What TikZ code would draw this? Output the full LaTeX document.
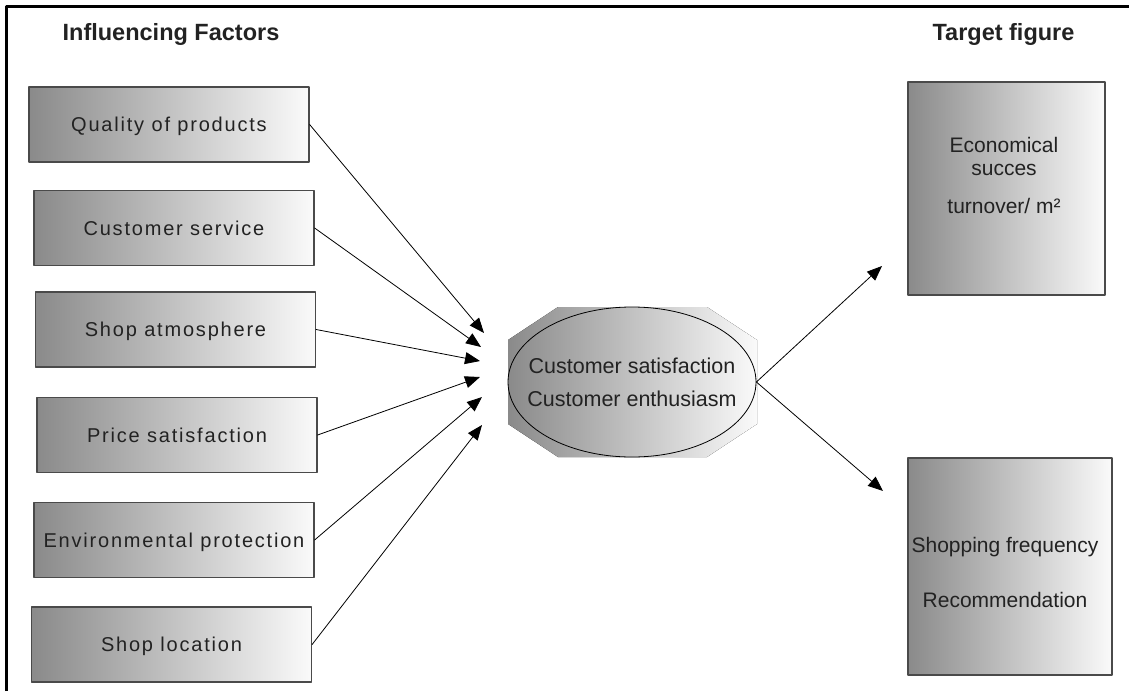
\documentclass[tikz,border=0pt]{standalone}
\usepackage{fontspec}
\setmainfont{Liberation Sans}
\newfontfamily\spacedfont[LetterSpace=9]{Liberation Sans}
\usetikzlibrary{arrows.meta,shapes.geometric}
\definecolor{shadeleft}{HTML}{8A8A8A}
\definecolor{shaderight}{HTML}{FAFAFA}
\definecolor{boxline}{HTML}{4A4A4A}
\definecolor{inkgray}{HTML}{222222}
\tikzset{
	factorbox/.style={rectangle,draw=boxline,line width=1.2pt,left color=shadeleft,right color=shaderight,
		minimum width=280pt,minimum height=75pt,inner sep=0pt,text height=14pt,text depth=0pt,
		font=\spacedfont\fontsize{20}{24}\selectfont,text=inkgray},
	targetbox/.style={rectangle,draw=boxline,line width=1.2pt,left color=shadeleft,right color=shaderight,inner sep=0pt},
	heading/.style={font=\bfseries\fontsize{23.5}{28}\selectfont,text=inkgray},
	flow/.style={-{Triangle[length=15pt,width=12pt]},line width=0.8pt}
}
\begin{document}
\begin{tikzpicture}[x=1pt,y=-1pt,line join=round,line cap=round]
	\useasboundingbox (0,0) rectangle (1129,691);
	\draw[line width=3pt,line cap=butt] (6.5,691)--(6.5,6.5)--(1129,6.5);
	\node[heading,anchor=base] (influence) at (171,40) {Influencing Factors};
	\node[heading,anchor=base] (target) at (1003.5,40) {Target figure};
	\node[factorbox] (quality) at (169,124.5) {Quality of products};
	\node[factorbox] (service) at (174,228) {Customer service};
	\node[factorbox] (atmos) at (175.5,329.5) {Shop atmosphere};
	\node[factorbox] (price) at (177,435) {Price satisfaction};
	\node[factorbox] (environ) at (174,540) {Environmental protection};
	\node[factorbox] (location) at (171.5,644.5) {Shop location};
	\fill[left color=shadeleft,right color=shaderight] (508,340)--(558,307)--(707,307)--(757,340)--(757,424)--(707,457)--(558,457)--(508,424)--cycle;
	\node[ellipse,draw,line width=0.8pt,minimum width=248pt,minimum height=150pt,inner sep=0pt] (sat) at (632,382) {};
	\node[align=center,inner sep=0pt,font=\fontsize{21.5}{33}\selectfont,text=inkgray] (sattext) at (sat.center) {Customer satisfaction\\Customer enthusiasm};
	\node[targetbox,minimum width=197pt,minimum height=213pt] (econ) at (1006.5,188.5) {};
	\node[anchor=north,align=center,inner sep=0pt,font=\fontsize{21}{23}\selectfont,text=inkgray] (econtext) at (1004,137) {Economical\\succes\\[15pt]turnover/ m²};
	\node[targetbox,minimum width=204pt,minimum height=217pt] (freq) at (1010,566.5) {};
	\node[anchor=north,align=center,inner sep=0pt,font=\fontsize{21}{55}\selectfont,text=inkgray] (freqtext) at (1005,537) {Shopping frequency\\Recommendation};
	\coordinate (t1) at (484,333);
	\coordinate (t2) at (481,347);
	\coordinate (t3) at (480,361);
	\coordinate (t4) at (480,377);
	\coordinate (t5) at (482,397);
	\coordinate (t6) at (482,425);
	\coordinate (r1) at (882,266);
	\coordinate (r2) at (883,491);
	\draw[flow] (quality.east)--(t1);
	\draw[flow] (service.east)--(t2);
	\draw[flow] (atmos.east)--(t3);
	\draw[flow] (price.east)--(t4);
	\draw[flow] (environ.east)--(t5);
	\draw[flow] (location.east)--(t6);
	\draw[flow] (sat.east)--(r1);
	\draw[flow] (sat.east)--(r2);
\end{tikzpicture}
\end{document}
